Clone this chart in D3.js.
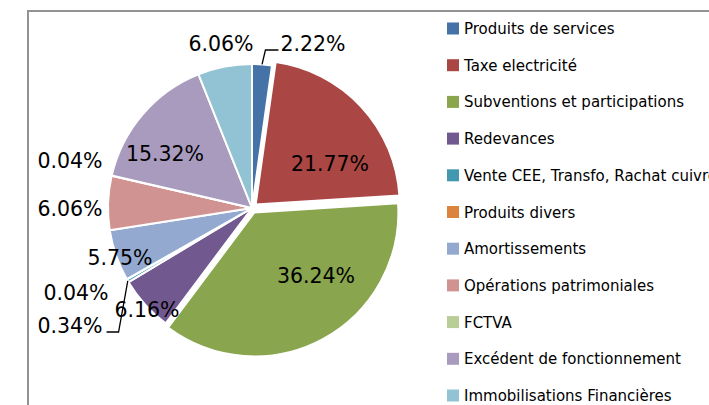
<!DOCTYPE html>
<html>
<head>
<meta charset="utf-8">
<script src="https://cdn.jsdelivr.net/npm/d3@7/dist/d3.min.js"></script>
<style>
  body { margin: 0; background: #fff; }
  svg { display: block; font-family: "DejaVu Sans", sans-serif; }
</style>
</head>
<body>
<div id="chart"></div>
<script>
// data
const categories = [
  "Produits de services",
  "Taxe electricité",
  "Subventions et participations",
  "Redevances",
  "Vente CEE, Transfo, Rachat cuivre",
  "Produits divers",
  "Amortissements",
  "Opérations patrimoniales",
  "FCTVA",
  "Excédent de fonctionnement",
  "Immobilisations Financières"
];
const values = [2.22, 21.77, 36.24, 6.16, 0.34, 0.04, 5.75, 6.06, 0.04, 15.32, 6.06];
const colors = ["#4572A7", "#AA4643", "#89A54E", "#71588F", "#4198AF", "#DB843D",
                "#93A9CF", "#D19392", "#B9CD96", "#A99BBD", "#92C3D4"];

// layout: label centres relative to the pie centre, explode distance, leader side
const labelOffsets = [[61, -165], [78, -45], [64, 67], [-105, 101], [-182, 117], [-176, 84],
                      [-132, 49], [-182, 0], [-182, -48], [-87, -55], [-31, -165]];
const explode = [0, 5, 5, 0, 0, 0, 0, 0, 0, 0, 0];
const leaders = { 0: "right", 4: "left" };

const width = 709, height = 405;
const cx = 252, cy = 208, radius = 144;

const svg = d3.select("#chart").append("svg")
  .attr("width", width)
  .attr("height", height);

// chart border
svg.append("rect")
  .attr("x", 28).attr("y", 11)
  .attr("width", width).attr("height", height)
  .attr("fill", "none")
  .attr("stroke", "#939393")
  .attr("stroke-width", 2);

const pie = d3.pie().sort(null).value(d => d)(values);
const arc = d3.arc().innerRadius(0).outerRadius(radius);

const g = svg.append("g").attr("transform", `translate(${cx},${cy})`);

g.selectAll("path.slice")
  .data(pie)
  .enter()
  .append("path")
  .attr("class", "slice")
  .attr("transform", (d, i) => {
    const a = (d.startAngle + d.endAngle) / 2;
    return `translate(${explode[i] * Math.sin(a)},${-explode[i] * Math.cos(a)})`;
  })
  .attr("d", arc)
  .attr("fill", (d, i) => colors[i])
  .attr("stroke", "#fff")
  .attr("stroke-width", 2)
  .attr("stroke-linejoin", "round");

// data labels
const labels = g.selectAll("text.lbl")
  .data(pie)
  .enter()
  .append("text")
  .attr("class", "lbl")
  .attr("x", (d, i) => labelOffsets[i][0])
  .attr("y", (d, i) => labelOffsets[i][1] + 7.5)
  .attr("text-anchor", "middle")
  .attr("font-size", "20.5px")
  .attr("fill", "#000")
  .text(d => d.data.toFixed(2) + "%");

// leader lines
labels.each(function (d, i) {
  if (!leaders[i]) return;
  const w = this.getComputedTextLength();
  const a = (d.startAngle + d.endAngle) / 2;
  const sx = radius * Math.sin(a), sy = -radius * Math.cos(a);
  const ly = labelOffsets[i][1] + 7;
  let ex, bx;
  if (leaders[i] === "right") {
    ex = labelOffsets[i][0] - w / 2 - 2;
    bx = ex - 13;
  } else {
    ex = labelOffsets[i][0] + w / 2 + 4;
    bx = ex + 12;
  }
  g.append("path")
    .attr("d", d3.line()([[sx, sy], [bx, ly], [ex, ly]]))
    .attr("fill", "none")
    .attr("stroke", "#000")
    .attr("stroke-width", 1.3);
});

// legend
const legend = svg.append("g").attr("transform", "translate(447,0)");
const rowY = d3.scalePoint().domain(categories).range([28.5, 395.5]);

const item = legend.selectAll("g.item")
  .data(categories)
  .enter()
  .append("g")
  .attr("class", "item")
  .attr("transform", d => `translate(0,${rowY(d)})`);

item.append("rect")
  .attr("x", 0).attr("y", -6)
  .attr("width", 12).attr("height", 12)
  .attr("fill", (d, i) => colors[i]);

item.append("text")
  .attr("x", 17)
  .attr("y", 5.5)
  .attr("font-size", "15px")
  .attr("fill", "#000")
  .text(d => d);
</script>
</body>
</html>
